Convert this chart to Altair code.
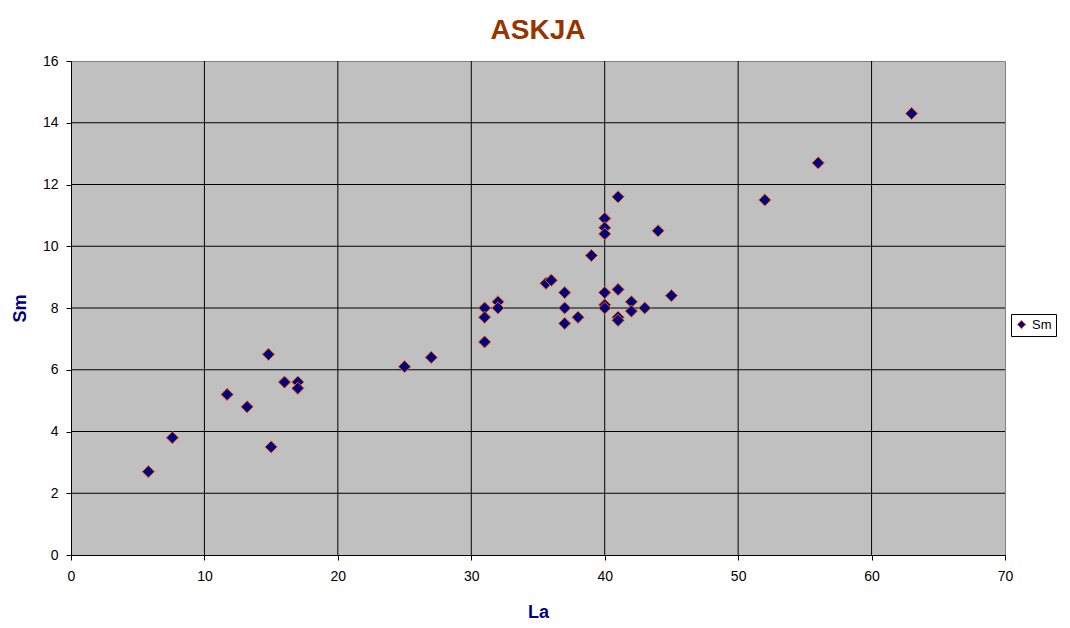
import altair as alt
import pandas as pd

# Data
la = [5.8, 7.6, 11.7, 13.2, 14.8, 15.0, 16.0, 17.0, 17.0, 25.0, 27.0,
      31.0, 31.0, 31.0, 32.0, 32.0, 35.6, 36.0, 37.0, 37.0, 37.0, 38.0,
      39.0, 40.0, 40.0, 40.0, 40.0, 40.0, 40.0, 41.0, 41.0, 41.0, 41.0,
      42.0, 42.0, 43.0, 44.0, 45.0, 52.0, 56.0, 63.0]
sm = [2.7, 3.8, 5.2, 4.8, 6.5, 3.5, 5.6, 5.6, 5.4, 6.1, 6.4,
      8.0, 7.7, 6.9, 8.2, 8.0, 8.8, 8.9, 8.5, 8.0, 7.5, 7.7,
      9.7, 10.9, 10.6, 10.4, 8.5, 8.1, 8.0, 11.6, 8.6, 7.7, 7.6,
      8.2, 7.9, 8.0, 10.5, 8.4, 11.5, 12.7, 14.3]
series_name = "Sm"

x_ticks = [0, 10, 20, 30, 40, 50, 60, 70]
y_ticks = [0, 2, 4, 6, 8, 10, 12, 14, 16]

FONT = "Liberation Sans"
NAVY = "#000080"

df = pd.DataFrame({"La": la, "Sm": sm, "series": [series_name] * len(la)})
vgrid_df = pd.DataFrame({"La": x_ticks[1:-1]})
hgrid_df = pd.DataFrame({"Sm": y_ticks[1:-1]})

x_scale = alt.Scale(domain=[x_ticks[0], x_ticks[-1]], nice=False, zero=False)
y_scale = alt.Scale(domain=[y_ticks[0], y_ticks[-1]], nice=False, zero=False)

x_axis = alt.Axis(
    values=x_ticks, grid=False, title="La", format="d", labelFlush=False,
    domainColor="black", tickColor="black", tickSize=5,
    labelFont=FONT, labelFontSize=14, labelColor="black", labelPadding=9,
    titleFont=FONT, titleFontSize=18, titleFontWeight="bold", titleColor=NAVY,
    titleY=62, titleBaseline="alphabetic")
y_axis = alt.Axis(
    values=y_ticks, grid=False, title="Sm", format="d", labelFlush=False,
    domainColor="black", tickColor="black", tickSize=5,
    labelFont=FONT, labelFontSize=14, labelColor="black", labelPadding=8,
    titleFont=FONT, titleFontSize=18, titleFontWeight="bold", titleColor=NAVY,
    titleAngle=270, titleX=-46, titleY=247, titleAlign="center",
    titleBaseline="alphabetic")

vgrid = alt.Chart(vgrid_df).mark_rule(color="black", strokeWidth=1).encode(
    x=alt.X("La:Q", scale=x_scale, axis=x_axis)
)
hgrid = alt.Chart(hgrid_df).mark_rule(color="black", strokeWidth=1).encode(
    y=alt.Y("Sm:Q", scale=y_scale, axis=y_axis)
)

points = alt.Chart(df).mark_point(
    shape="diamond", filled=True, size=150, stroke="#FF6600", strokeWidth=1, opacity=1
).encode(
    x=alt.X("La:Q", scale=x_scale, axis=x_axis),
    y=alt.Y("Sm:Q", scale=y_scale, axis=y_axis),
    fill=alt.Fill("series:N", scale=alt.Scale(domain=[series_name], range=[NAVY]),
                  legend=alt.Legend(
                      title=None, orient="none", legendX=940, legendY=253,
                      padding=4, strokeColor="black", fillColor="white",
                      cornerRadius=0, symbolType="diamond", symbolSize=70,
                      symbolStrokeColor="#FF6600", symbolStrokeWidth=1,
                      symbolFillColor=NAVY,
                      labelFont=FONT, labelFontSize=13, labelColor="black",
                      labelOffset=4)),
)

chart = alt.layer(vgrid, hgrid, points).properties(
    width=934,
    height=494,
    title=alt.TitleParams("ASKJA", font=FONT, fontSize=28, fontWeight="bold",
                          color="#993300", anchor="middle", offset=9),
    autosize=alt.AutoSizeParams(type="none"),
    padding={"left": 63, "top": 53, "right": 57, "bottom": 72},
    background="white",
).configure_view(
    fill="#C0C0C0", stroke="#808080", strokeWidth=1
)

chart.save("out.html", embed_options={"renderer": "svg", "actions": False})
